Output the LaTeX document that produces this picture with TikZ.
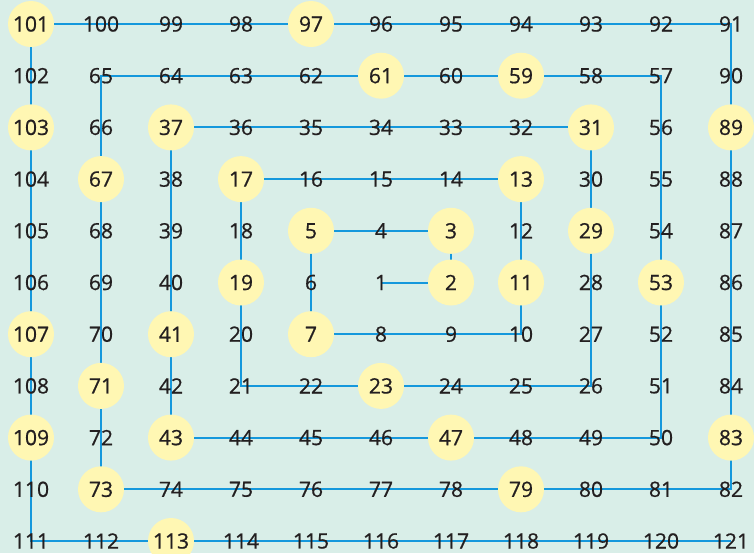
\documentclass[tikz,border=0pt]{standalone}
\usepackage{fontspec}
\setmainfont{Open Sans}
\newfontfamily\numfont{Open Sans}[FakeBold=0.7]
\usetikzlibrary{calc}
\definecolor{gridbg}{HTML}{D9EEE8}
\definecolor{spiral}{HTML}{1598DC}
\definecolor{primefill}{HTML}{FFF7B3}
\definecolor{numtext}{HTML}{231F20}
\tikzset{
  link/.style     ={draw=spiral, line width=1.7pt, line join=miter},
  primedot/.style ={circle, fill=primefill, minimum size=1.38cm, inner sep=0pt},
  num/.style      ={font=\numfont\fontsize{18}{20}\selectfont, text=numtext, inner sep=0pt},
}

\begin{document}
\begin{tikzpicture}[x=0.03cm,y=-0.03cm]
  \fill[gridbg] (0,0) rectangle (754,553);
  \useasboundingbox (0,0) rectangle (754,553);
  % places of the numbers, row by row from the top
  \foreach \row [count=\r from 0] in {
      {101,100,99,98,97,96,95,94,93,92,91},
      {102,65,64,63,62,61,60,59,58,57,90},
      {103,66,37,36,35,34,33,32,31,56,89},
      {104,67,38,17,16,15,14,13,30,55,88},
      {105,68,39,18,5,4,3,12,29,54,87},
      {106,69,40,19,6,1,2,11,28,53,86},
      {107,70,41,20,7,8,9,10,27,52,85},
      {108,71,42,21,22,23,24,25,26,51,84},
      {109,72,43,44,45,46,47,48,49,50,83},
      {110,73,74,75,76,77,78,79,80,81,82},
      {111,112,113,114,115,116,117,118,119,120,121}} {
    \foreach \n [count=\c from 0] in \row
      \coordinate (p\n) at (31+70*\c, 24+51.7*\r);
  }
  % the spiral
  \draw[link] (p1) \foreach \n in {2,...,121} {-- (p\n)};
  % primes
  \foreach \n in {2,3,5,7,11,13,17,19,23,29,31,37,41,43,47,53,59,61,67,71,73,79,83,89,97,101,103,107,109,113}
    \node[primedot] (c\n) at (p\n) {};
  % numbers
  \foreach \n in {1,...,121}
    \node[num] (n\n) at (p\n) {\n};
\end{tikzpicture}
\end{document}
